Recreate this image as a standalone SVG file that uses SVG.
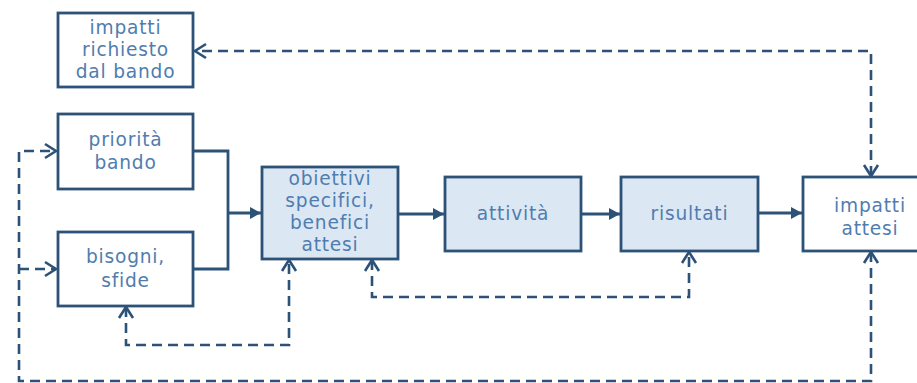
<svg xmlns="http://www.w3.org/2000/svg" width="917" height="383" viewBox="0 0 917 383">
<style>
.box{fill:#ffffff;stroke:#2d5278;stroke-width:2.8}
.boxb{fill:#dce7f4;stroke:#2d5278;stroke-width:2.8}
.t{font-family:"DejaVu Sans","Open Sans",sans-serif;font-size:18.6px;letter-spacing:0.8px;fill:#4f7daf;text-anchor:middle}
.solid{fill:none;stroke:#2d5278;stroke-width:2.8}
.dash{fill:none;stroke:#2d5278;stroke-width:2.6;stroke-dasharray:10 6}
</style>
<defs>
<marker id="fa" markerUnits="userSpaceOnUse" markerWidth="14" markerHeight="14" viewBox="-12 -7 14 14" refX="0" refY="0" orient="auto">
<path d="M-11,-6 L0,0 L-11,6 Z" fill="#2d5278"/>
</marker>
<marker id="oa" markerUnits="userSpaceOnUse" markerWidth="18" markerHeight="18" viewBox="-14 -9 16 18" refX="0" refY="0" orient="auto-start-reverse">
<path d="M-11,-7 L0,0 L-11,7" fill="none" stroke="#2d5278" stroke-width="2.6"/>
</marker>
</defs>
<g id="connectors">
<path class="solid" d="M193,151 H228 V269 H193"/>
<path class="solid" d="M228,213 H261" marker-end="url(#fa)"/>
<path class="solid" d="M398,214 H444" marker-end="url(#fa)"/>
<path class="solid" d="M581,214 H620" marker-end="url(#fa)"/>
<path class="solid" d="M758,213 H802" marker-end="url(#fa)"/>
<path class="dash" d="M871,176 V51 H195" marker-start="url(#oa)" marker-end="url(#oa)"/>
<path class="dash" d="M871,252 V381 H19 V151 H56" marker-start="url(#oa)" marker-end="url(#oa)"/>
<path class="dash" d="M19,269 H56" marker-end="url(#oa)"/>
<path class="dash" d="M126,307 V345 H289 V260" marker-start="url(#oa)" marker-end="url(#oa)"/>
<path class="dash" d="M372,260 V297 H689 V252" marker-start="url(#oa)" marker-end="url(#oa)"/>
</g>
<g id="impatti-richiesto">
<rect class="box" x="58" y="13" width="135" height="74"/>
<text class="t"><tspan x="125.5" y="34">impatti</tspan><tspan x="125.5" y="56">richiesto</tspan><tspan x="125.5" y="78">dal bando</tspan></text>
</g>
<g id="priorita-bando">
<rect class="box" x="58" y="114" width="135" height="75"/>
<text class="t"><tspan x="125.5" y="146">priorità</tspan><tspan x="125.5" y="169">bando</tspan></text>
</g>
<g id="bisogni-sfide">
<rect class="box" x="58" y="232" width="135" height="74"/>
<text class="t"><tspan x="125.5" y="263">bisogni,</tspan><tspan x="125.5" y="287">sfide</tspan></text>
</g>
<g id="obiettivi">
<rect class="boxb" x="262" y="167" width="136" height="92"/>
<text class="t"><tspan x="330" y="185">obiettivi</tspan><tspan x="330" y="207">specifici,</tspan><tspan x="330" y="229">benefici</tspan><tspan x="330" y="251">attesi</tspan></text>
</g>
<g id="attivita">
<rect class="boxb" x="445" y="177" width="136" height="74"/>
<text class="t" x="513" y="220">attività</text>
</g>
<g id="risultati">
<rect class="boxb" x="621" y="177" width="137" height="74"/>
<text class="t" x="689.5" y="220">risultati</text>
</g>
<g id="impatti-attesi">
<rect class="box" x="803" y="177" width="136" height="74"/>
<text class="t"><tspan x="870" y="212">impatti</tspan><tspan x="870" y="235">attesi</tspan></text>
</g>
</svg>
